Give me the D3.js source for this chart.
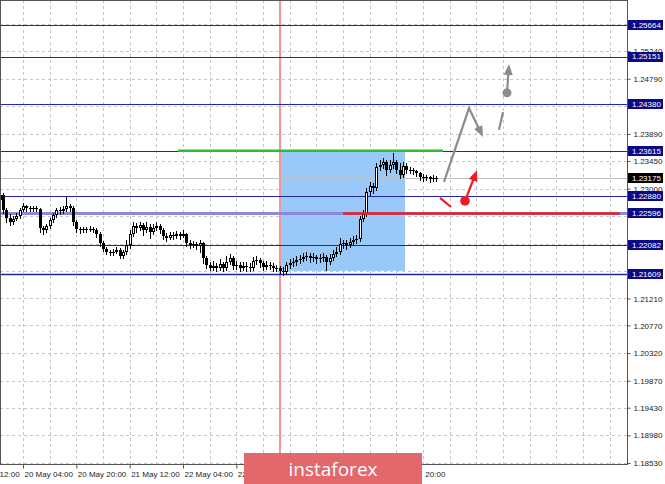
<!DOCTYPE html>
<html><head><meta charset="utf-8">
<script src="https://cdn.jsdelivr.net/npm/d3@7"></script>
<style>html,body{margin:0;padding:0;background:#fff;overflow:hidden}svg{display:block}</style>
</head><body><svg id="c" width="665" height="484"></svg>
<script>
// ---- data (H1 bars, hour offset relative to 20 May 04:00) ----
const firstHour = -7;
const firstOpen = 1.2281;
const high = [1.2295,1.2293,1.2268,1.2259,1.2255,1.2260,1.2268,1.2277,1.2273,1.2272,1.2272,1.2272,1.2268,1.2239,1.2242,1.2252,1.2260,1.2268,1.2270,1.2272,
1.2286,1.2275,1.2272,1.2249,1.2237,1.2237,1.2237,1.2239,1.2237,1.2236,1.2229,1.2215,1.2205,1.2200,1.2202,1.2205,1.2203,1.2200,1.2216,1.2233,
1.2246,1.2244,1.2246,1.2244,1.2246,1.2242,1.2242,1.2246,1.2242,1.2236,1.2228,1.2229,1.2229,1.2231,1.2229,1.2233,1.2228,1.2216,1.2215,1.2213,
1.2216,1.2213,1.2190,1.2180,1.2182,1.2179,1.2185,1.2180,1.2190,1.2193,1.2190,1.2182,1.2180,1.2180,1.2180,1.2179,1.2189,1.2190,1.2187,1.2182,
1.2182,1.2180,1.2179,1.2176,1.2174,1.2172,1.2180,1.2185,1.2187,1.2190,1.2192,1.2195,1.2197,1.2195,1.2195,1.2192,1.2193,1.2195,1.2192,1.2193,
1.2200,1.2205,1.2220,1.2216,1.2216,1.2220,1.2223,1.2224,1.2255,1.2265,1.2301,1.2311,1.2309,1.2342,1.2347,1.2350,1.2347,1.2347,1.2358,1.2347,
1.2342,1.2343,1.2342,1.2335,1.2334,1.2330,1.2327,1.2324,1.2322,1.2321,1.2322,1.2321];
const low = [1.2268,1.2260,1.2246,1.2241,1.2242,1.2249,1.2252,1.2263,1.2263,1.2263,1.2263,1.2263,1.2229,1.2226,1.2229,1.2236,1.2246,1.2254,1.2259,1.2260,
1.2263,1.2263,1.2241,1.2229,1.2228,1.2229,1.2229,1.2231,1.2229,1.2221,1.2206,1.2198,1.2193,1.2192,1.2192,1.2195,1.2187,1.2187,1.2193,1.2203,
1.2223,1.2229,1.2233,1.2224,1.2229,1.2220,1.2226,1.2233,1.2228,1.2218,1.2215,1.2218,1.2218,1.2220,1.2218,1.2221,1.2206,1.2203,1.2205,1.2202,
1.2197,1.2179,1.2171,1.2167,1.2167,1.2166,1.2167,1.2166,1.2167,1.2177,1.2169,1.2169,1.2166,1.2167,1.2166,1.2166,1.2167,1.2177,1.2172,1.2167,
1.2169,1.2169,1.2166,1.2166,1.2163,1.2159,1.2161,1.2171,1.2174,1.2176,1.2179,1.2182,1.2184,1.2180,1.2182,1.2179,1.2180,1.2182,1.2167,1.2177,
1.2184,1.2190,1.2193,1.2203,1.2202,1.2205,1.2210,1.2211,1.2215,1.2247,1.2255,1.2290,1.2293,1.2298,1.2330,1.2334,1.2322,1.2327,1.2334,1.2325,
1.2317,1.2319,1.2325,1.2325,1.2324,1.2321,1.2314,1.2312,1.2314,1.2311,1.2312,1.2312];
const close = [1.2290,1.2265,1.2252,1.2246,1.2250,1.2255,1.2265,1.2272,1.2268,1.2267,1.2268,1.2267,1.2236,1.2233,1.2239,1.2249,1.2257,1.2265,1.2263,1.2267,
1.2272,1.2268,1.2246,1.2234,1.2233,1.2234,1.2233,1.2234,1.2233,1.2226,1.2211,1.2202,1.2197,1.2195,1.2197,1.2200,1.2190,1.2197,1.2208,1.2226,
1.2239,1.2236,1.2241,1.2233,1.2237,1.2229,1.2236,1.2239,1.2233,1.2223,1.2220,1.2224,1.2223,1.2226,1.2223,1.2226,1.2211,1.2208,1.2210,1.2206,
1.2211,1.2187,1.2176,1.2171,1.2174,1.2171,1.2177,1.2171,1.2180,1.2187,1.2174,1.2176,1.2171,1.2174,1.2172,1.2171,1.2182,1.2184,1.2179,1.2172,
1.2176,1.2174,1.2171,1.2171,1.2166,1.2164,1.2176,1.2179,1.2180,1.2184,1.2185,1.2189,1.2190,1.2187,1.2189,1.2185,1.2187,1.2189,1.2180,1.2187,
1.2193,1.2197,1.2210,1.2211,1.2208,1.2213,1.2216,1.2218,1.2250,1.2259,1.2295,1.2304,1.2301,1.2335,1.2339,1.2343,1.2330,1.2339,1.2343,1.2330,
1.2322,1.2337,1.2330,1.2330,1.2329,1.2325,1.2319,1.2317,1.2319,1.2316,1.2317,1.23175];

const priceTicks = [1.18530,1.18980,1.19430,1.19870,1.20320,1.20770,1.21210,1.21660,1.22100,1.22550,1.23000,1.23450,1.23890,1.24340,1.24790,1.25240,1.25690];
const levelPrices = [1.25664,1.25151,1.24380,1.23615,1.22880,1.22596,1.22082,1.21609];
const currentPrice = 1.23175;
// time labels as visible in the picture (the rest is hidden behind the logo)
const timeLabelHours = [-16,0,16,32,48,64];
const timeLabels = ["19 May 12:00","20 May 04:00","20 May 20:00","21 May 12:00","22 May 04:00","22"];
const tailLabelHour = 112, tailLabel = "20:00";
const gridHours = [-8,0,8,16,24,32,40,48,56,64,72,80,88,96,104,112,120,128,136,144,152,160,168,176];

// annotations (hour, price)
const boxHours = [77.4, 114.6], boxPrices = [1.2166, 1.23615];
const vlineHour = 77.1;
const greenHours = [46.5, 126], greenPrice = 1.23615;
const redHours = [96, 179.1], redPrice = 1.22596;
const grayZigHours = [126.3, 133.8, 138.0], grayZigPrices = [1.2311, 1.2431, 1.2384];
const grayDashHours = [142.8, 144.0], grayDashPrices = [1.2396, 1.2425];
const grayDotHour = 145.2, grayDotPrice = 1.2456, grayTipHour = 145.8, grayTipPrice = 1.2503;
const redDashHours = [125.1, 128.4], redDashPrices = [1.2285, 1.2270];
const redDotHour = 132.6, redDotPrice = 1.2280, redTipHour = 136.2, redTipPrice = 1.2330;

// ---- drawing ----
const W = 627, H = 464;
const svg = d3.select("#c");
const x = d3.scaleLinear().domain([-6.9, 181.2]).range([0, W]);
const y = d3.scaleLinear().domain([1.18513, 1.26073]).range([H, 0]);
const FONT = "'Liberation Sans', Arial, sans-serif";
const px = v => Math.round(v) + 0.5;

svg.append("rect").attr("width",665).attr("height",484).attr("fill","#fff");

// grid
const g = svg.append("g");
g.selectAll(".hg").data(priceTicks).join("line")
 .attr("x1",0).attr("x2",W).attr("y1",d=>px(y(d))).attr("y2",d=>px(y(d)))
 .attr("stroke","#c6c6c6").attr("stroke-dasharray","3,3");
g.selectAll(".vg").data(gridHours.filter(h=>x(h)>0&&x(h)<W)).join("line")
 .attr("y1",0).attr("y2",H).attr("x1",d=>px(x(d))).attr("x2",d=>px(x(d)))
 .attr("stroke","#c6c6c6").attr("stroke-dasharray","3,3");

// blue box
svg.append("rect").attr("x",x(boxHours[0])).attr("y",y(boxPrices[1]))
 .attr("width",x(boxHours[1])-x(boxHours[0])).attr("height",y(boxPrices[0])-y(boxPrices[1]))
 .attr("fill","#99c9f8");

// red vertical line
svg.append("line").attr("x1",x(vlineHour)).attr("x2",x(vlineHour)).attr("y1",0).attr("y2",H)
 .attr("stroke","#f27878").attr("stroke-width",1.6);

// level lines
svg.selectAll(".lvl").data(levelPrices).join("line")
 .attr("x1",0).attr("x2",W).attr("y1",d=>px(y(d))).attr("y2",d=>px(y(d)))
 .attr("stroke",(d,i)=> i===5 ? "#8a8ad8" : "#2424a4")
 .attr("stroke-width",(d,i)=> i===5 ? 3 : (i===7 ? 1.5 : 1));

// current price line
svg.append("line").attr("x1",0).attr("x2",W).attr("y1",px(y(currentPrice))).attr("y2",px(y(currentPrice)))
 .attr("stroke","#c0c0c0");

// candles
const candles = close.map((c,i)=>({h:firstHour+i, o: i?close[i-1]:firstOpen, c, hi:high[i], lo:low[i]}));
const cg = svg.append("g");
candles.forEach(d=>{
  const cx = Math.round(x(d.h));
  const hi = Math.max(d.hi,d.o,d.c), lo = Math.min(d.lo,d.o,d.c);
  cg.append("line").attr("x1",cx+0.5).attr("x2",cx+0.5)
    .attr("y1",Math.round(y(hi))).attr("y2",Math.round(y(lo))+1).attr("stroke","#000");
  const t = Math.round(y(Math.max(d.o,d.c))), b = Math.round(y(Math.min(d.o,d.c)));
  if (d.c < d.o) {
    cg.append("rect").attr("x",cx-1).attr("y",t).attr("width",3).attr("height",Math.max(1,b-t)).attr("fill","#000");
  } else if (b - t >= 2) {
    cg.append("rect").attr("x",cx-0.5).attr("y",t+0.5).attr("width",2).attr("height",b-t-1)
      .attr("fill","#fff").attr("stroke","#000");
  } else {
    cg.append("rect").attr("x",cx-1).attr("y",t).attr("width",3).attr("height",1).attr("fill","#000");
  }
});

// green line & red line
svg.append("line").attr("x1",x(greenHours[0])).attr("x2",x(greenHours[1]))
 .attr("y1",y(greenPrice)).attr("y2",y(greenPrice)).attr("stroke","#33bb33").attr("stroke-width",2.5);
svg.append("line").attr("x1",x(redHours[0])).attr("x2",x(redHours[1]))
 .attr("y1",y(redPrice)).attr("y2",y(redPrice)).attr("stroke","#ea2029").attr("stroke-width",2.5);

// arrows
function head(x0,y0,x1,y1,color,len,hw){
  const dx=x1-x0, dy=y1-y0, L=Math.hypot(dx,dy), ux=dx/L, uy=dy/L;
  const bx=x1-ux*len, by=y1-uy*len;
  svg.append("path").attr("d",`M${x1},${y1}L${bx-uy*hw},${by+ux*hw}L${bx+uy*hw},${by-ux*hw}Z`).attr("fill",color);
  return [bx+ux*1, by+uy*1];
}
const GRAY = "#8c8c8c", RED = "#ee1c25";
{
  const pts = grayZigHours.map((h,i)=>[x(h), y(grayZigPrices[i])]);
  const n = pts.length;
  const end = head(pts[n-2][0],pts[n-2][1],pts[n-1][0],pts[n-1][1],GRAY,11,4.5);
  const linePts = pts.slice(0,n-1).concat([end]);
  svg.append("path").attr("d",d3.line()(linePts)).attr("fill","none").attr("stroke",GRAY).attr("stroke-width",2.2).attr("stroke-linejoin","miter");
}
svg.append("line").attr("x1",x(grayDashHours[0])).attr("y1",y(grayDashPrices[0]))
 .attr("x2",x(grayDashHours[1])).attr("y2",y(grayDashPrices[1])).attr("stroke",GRAY).attr("stroke-width",2.2);
{
  const x0=x(grayDotHour), y0=y(grayDotPrice), x1=x(grayTipHour), y1=y(grayTipPrice);
  const e = head(x0,y0,x1,y1,GRAY,11,4.5);
  svg.append("line").attr("x1",x0).attr("y1",y0).attr("x2",e[0]).attr("y2",e[1]).attr("stroke",GRAY).attr("stroke-width",2.2);
  svg.append("circle").attr("cx",x0).attr("cy",y0).attr("r",4.5).attr("fill",GRAY);
}
svg.append("line").attr("x1",x(redDashHours[0])).attr("y1",y(redDashPrices[0]))
 .attr("x2",x(redDashHours[1])).attr("y2",y(redDashPrices[1])).attr("stroke",RED).attr("stroke-width",2.2);
{
  const x0=x(redDotHour), y0=y(redDotPrice), x1=x(redTipHour), y1=y(redTipPrice);
  const e = head(x0,y0,x1,y1,RED,11,4.5);
  svg.append("line").attr("x1",x0).attr("y1",y0).attr("x2",e[0]).attr("y2",e[1]).attr("stroke",RED).attr("stroke-width",2.2);
  svg.append("circle").attr("cx",x0).attr("cy",y0).attr("r",4.8).attr("fill",RED);
}

// frame
svg.append("rect").attr("x",0.5).attr("y",0.5).attr("width",W).attr("height",H)
 .attr("fill","none").attr("stroke","#555");

// price axis (labels hidden under level boxes are left out)
const covered = [...levelPrices, currentPrice];
const ya = svg.append("g").attr("transform",`translate(${W+0.5},0)`)
 .call(d3.axisRight(y).tickValues(priceTicks)
   .tickFormat(d => covered.some(p => Math.abs(y(p)-y(d)) < 4) ? "" : d3.format(".5f")(d))
   .tickSize(3).tickPadding(3));
ya.select(".domain").remove();
ya.selectAll("text").attr("font-family",FONT).attr("font-size",8).attr("fill","#222");
ya.selectAll("line").attr("stroke","#555");

// time axis
const xa = svg.append("g").attr("transform",`translate(0,${H+0.5})`)
 .call(d3.axisBottom(x).tickValues(timeLabelHours).tickFormat((d,i)=>timeLabels[i]).tickSize(4).tickPadding(3));
xa.select(".domain").remove();
xa.selectAll("text").attr("font-family",FONT).attr("font-size",8).attr("fill","#222")
 .attr("text-anchor","start").attr("dx",1);
xa.selectAll("line").attr("stroke","#555");
svg.append("text").attr("x",x(tailLabelHour)+29).attr("y",H+0.5+7+8*0.71).text(tailLabel)
 .attr("font-family",FONT).attr("font-size",8).attr("fill","#222");

// level labels
const lg = svg.selectAll(".ll").data(levelPrices).join("g");
lg.append("rect").attr("x",W+1).attr("y",d=>Math.round(y(d))-5).attr("width",35).attr("height",10).attr("fill","#0a0a84");
lg.append("text").attr("x",W+5).attr("y",d=>y(d)).attr("dy","0.35em").text(d=>d3.format(".5f")(d))
 .attr("font-family",FONT).attr("font-size",8).attr("fill","#fff");
svg.append("rect").attr("x",W+1).attr("y",Math.round(y(currentPrice))-5).attr("width",35).attr("height",10).attr("fill","#000");
svg.append("text").attr("x",W+5).attr("y",y(currentPrice)).attr("dy","0.35em").text(d3.format(".5f")(currentPrice))
 .attr("font-family",FONT).attr("font-size",8).attr("fill","#fff");

// logo
svg.append("rect").attr("x",244).attr("y",453).attr("width",178).attr("height",31).attr("fill","#e2686b");
svg.append("text").attr("x",333).attr("y",476).attr("text-anchor","middle").text("instaforex")
 .attr("font-family","'Open Sans', sans-serif").attr("font-size",19).attr("fill","#fff");
</script>
</body></html>
